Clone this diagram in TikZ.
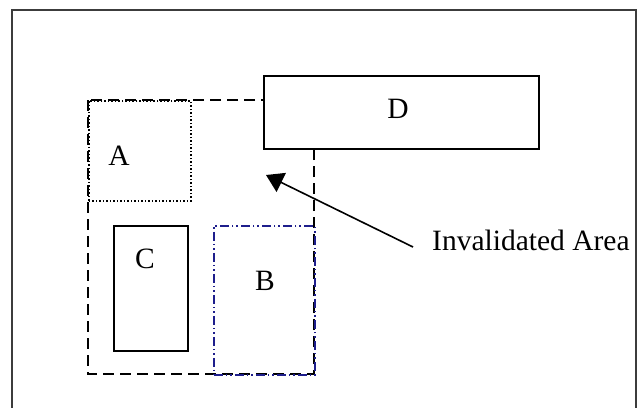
\documentclass[tikz,border=0pt]{standalone}
\usepackage{fontspec}
\setmainfont{Liberation Serif}
\usetikzlibrary{arrows.meta}
\definecolor{bnavy}{RGB}{30,30,140}
\definecolor{framegray}{RGB}{60,60,60}
\tikzset{
  lbl/.style={font=\fontsize{29.5}{32}\selectfont, inner sep=0pt},
  solidbox/.style={draw, line width=1.7pt, inner sep=0pt, anchor=north west},
  dashedarea/.style={draw, line width=1.7pt, dash pattern=on 11pt off 6pt},
  dottedbox/.style={draw, line width=1.5pt, dash pattern=on 1.5pt off 2pt, inner sep=0pt, anchor=north west},
  dashdotdot/.style={draw=bnavy, line width=1.7pt, dash pattern=on 9pt off 3pt on 1.5pt off 3pt on 1.5pt off 3pt, inner sep=0pt, anchor=north west},
}
\begin{document}
\begin{tikzpicture}[x=1pt,y=-1pt]
\useasboundingbox[fill=white] (0,0) rectangle (637,407);
% outer frame (bottom edge lies below the picture)
\draw[framegray, line width=2pt] (12,420) -- (12,10) -- (635.5,10) -- (635.5,420);
% invalidated area (dashed)
\draw[dashedarea] (88,100) rectangle (314,374);
% A dotted
\node[dottedbox, minimum width=102pt, minimum height=100pt] (A) at (88,100) {};
\node[lbl] (Alab) at (119,156) {A};
% C solid
\node[solidbox, minimum width=74pt, minimum height=125pt] (C) at (113,225) {};
\node[lbl] (Clab) at (145,259) {C};
% B dash-dot-dot
\node[dashdotdot, minimum width=101pt, minimum height=149pt] (B) at (213,225) {};
\node[lbl] (Blab) at (265,281) {B};
% D solid, white fill covering corner of dashed area
\node[solidbox, fill=white, minimum width=275pt, minimum height=73pt] (D) at (263,75) {};
\node[lbl] (Dlab) at (398,109) {D};
% label and arrow
\node[lbl, anchor=west] (inv) at (432,240) {Invalidated Area};
\coordinate (tip) at (266,175);
\draw[line width=1.6pt, -{Triangle[length=17pt,width=21pt]}] ([xshift=-19pt,yshift=-7pt]inv.west) -- (tip);
\end{tikzpicture}
\end{document}
